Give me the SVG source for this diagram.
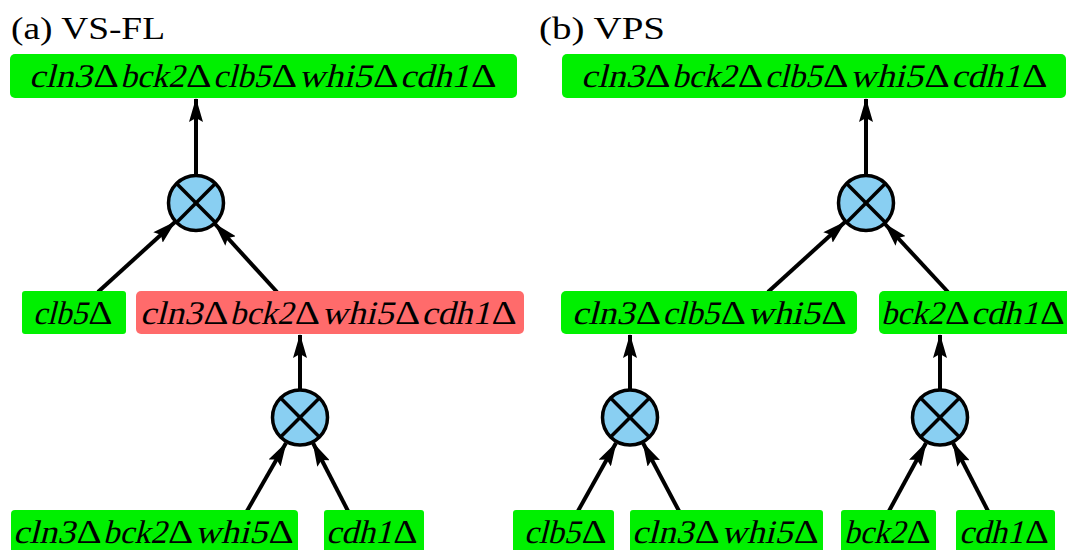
<svg xmlns="http://www.w3.org/2000/svg" width="1067" height="550" viewBox="0 0 1067 550">
<style>
.g{fill:#00f000}
.r{fill:#ff6b6b}
.i{font-family:"Liberation Serif","DejaVu Serif",serif;font-size:33px;fill:#000}
.d{font-family:"Liberation Serif","DejaVu Serif",serif;font-size:33px;fill:#000;text-anchor:middle}
.ttl{font-family:"Liberation Serif","DejaVu Serif",serif;font-size:31px;fill:#000}
.c{fill:#89cff2;stroke:#000;stroke-width:3.5}
.x{stroke:#000;stroke-width:3.5}
.e{stroke:#000;stroke-width:4;fill:none;marker-end:url(#ah)}
</style>
<defs>
<marker id="ah" markerUnits="userSpaceOnUse" viewBox="0 0 24 14" markerWidth="24" markerHeight="14" refX="23" refY="7" orient="auto">
<path d="M0,0 L24,7 L0,14 L4,7 z" fill="#000"/>
</marker>
<g id="mul">
<circle class="c" cx="0" cy="0" r="27.5"/>
<line class="x" x1="-19.4" y1="-19.4" x2="19.4" y2="19.4"/>
<line class="x" x1="19.4" y1="-19.4" x2="-19.4" y2="19.4"/>
</g>
</defs>
<rect width="1067" height="550" fill="#fff"/>
<text class="ttl" x="11" y="39" textLength="154" lengthAdjust="spacingAndGlyphs">(a) VS-FL</text>
<text class="ttl" x="539" y="39" textLength="126" lengthAdjust="spacingAndGlyphs">(b) VPS</text>

<g id="connectors">
<line class="e" x1="196" y1="176" x2="196" y2="99"/>
<line class="e" x1="98" y1="292" x2="175" y2="222"/>
<line class="e" x1="277" y1="292" x2="215" y2="224"/>
<line class="e" x1="300" y1="390" x2="300" y2="335"/>
<line class="e" x1="247" y1="511" x2="286" y2="443"/>
<line class="e" x1="348" y1="511" x2="313" y2="443"/>
<line class="e" x1="866" y1="176" x2="866" y2="99"/>
<line class="e" x1="768" y1="292" x2="845" y2="222"/>
<line class="e" x1="948" y1="292" x2="885" y2="224"/>
<line class="e" x1="630" y1="390" x2="630" y2="335"/>
<line class="e" x1="940" y1="390" x2="940" y2="335"/>
<line class="e" x1="578" y1="511" x2="616" y2="443"/>
<line class="e" x1="679" y1="511" x2="643" y2="443"/>
<line class="e" x1="889" y1="511" x2="926" y2="443"/>
<line class="e" x1="988" y1="511" x2="953" y2="443"/>
</g>

<g id="a_top"><rect class="g" x="10" y="54" width="507" height="44" rx="5"/>
<text class="i" transform="translate(29,87) skewX(-14)" textLength="62.8" lengthAdjust="spacingAndGlyphs">cln3</text>
<text class="d" x="106" y="87" textLength="25.6" lengthAdjust="spacingAndGlyphs">Δ</text>
<text class="i" transform="translate(120.2,87) skewX(-14)" textLength="64.5" lengthAdjust="spacingAndGlyphs">bck2</text>
<text class="d" x="198.9" y="87" textLength="25.6" lengthAdjust="spacingAndGlyphs">Δ</text>
<text class="i" transform="translate(213.1,87) skewX(-14)" textLength="56.9" lengthAdjust="spacingAndGlyphs">clb5</text>
<text class="d" x="284.2" y="87" textLength="25.6" lengthAdjust="spacingAndGlyphs">Δ</text>
<text class="i" transform="translate(298.4,87) skewX(-14)" textLength="73.2" lengthAdjust="spacingAndGlyphs">whi5</text>
<text class="d" x="385.8" y="87" textLength="25.6" lengthAdjust="spacingAndGlyphs">Δ</text>
<text class="i" transform="translate(400,87) skewX(-14)" textLength="69.5" lengthAdjust="spacingAndGlyphs">cdh1</text>
<text class="d" x="483.8" y="87" textLength="25.6" lengthAdjust="spacingAndGlyphs">Δ</text></g>
<g id="a_op1"><use href="#mul" x="196" y="203"/></g>
<g id="a_clb5"><rect class="g" x="22" y="291" width="104" height="43" rx="3"/>
<text class="i" transform="translate(33,324) skewX(-14)" textLength="54.1" lengthAdjust="spacingAndGlyphs">clb5</text>
<text class="d" x="100.5" y="324" textLength="24.3" lengthAdjust="spacingAndGlyphs">Δ</text></g>
<g id="a_red"><rect class="r" x="136" y="291" width="388" height="43" rx="5"/>
<text class="i" transform="translate(140,324) skewX(-14)" textLength="61.9" lengthAdjust="spacingAndGlyphs">cln3</text>
<text class="d" x="215.8" y="324" textLength="25.2" lengthAdjust="spacingAndGlyphs">Δ</text>
<text class="i" transform="translate(229.8,324) skewX(-14)" textLength="63.6" lengthAdjust="spacingAndGlyphs">bck2</text>
<text class="d" x="307.4" y="324" textLength="25.2" lengthAdjust="spacingAndGlyphs">Δ</text>
<text class="i" transform="translate(321.4,324) skewX(-14)" textLength="72.1" lengthAdjust="spacingAndGlyphs">whi5</text>
<text class="d" x="407.5" y="324" textLength="25.2" lengthAdjust="spacingAndGlyphs">Δ</text>
<text class="i" transform="translate(421.5,324) skewX(-14)" textLength="68.5" lengthAdjust="spacingAndGlyphs">cdh1</text>
<text class="d" x="504" y="324" textLength="25.2" lengthAdjust="spacingAndGlyphs">Δ</text></g>
<g id="a_op2"><use href="#mul" x="300" y="417.5"/></g>
<g id="a_cbw"><rect class="g" x="11" y="510" width="287" height="50" rx="4"/>
<text class="i" transform="translate(13,543) skewX(-14)" textLength="62" lengthAdjust="spacingAndGlyphs">cln3</text>
<text class="d" x="89" y="543" textLength="25.2" lengthAdjust="spacingAndGlyphs">Δ</text>
<text class="i" transform="translate(103,543) skewX(-14)" textLength="63.7" lengthAdjust="spacingAndGlyphs">bck2</text>
<text class="d" x="180.7" y="543" textLength="25.2" lengthAdjust="spacingAndGlyphs">Δ</text>
<text class="i" transform="translate(194.7,543) skewX(-14)" textLength="72.3" lengthAdjust="spacingAndGlyphs">whi5</text>
<text class="d" x="281" y="543" textLength="25.2" lengthAdjust="spacingAndGlyphs">Δ</text></g>
<g id="a_cdh1"><rect class="g" x="324" y="510" width="100" height="50" rx="3"/>
<text class="i" transform="translate(326,543) skewX(-14)" textLength="66" lengthAdjust="spacingAndGlyphs">cdh1</text>
<text class="d" x="405.5" y="543" textLength="24.3" lengthAdjust="spacingAndGlyphs">Δ</text></g>

<g id="b_top"><rect class="g" x="562" y="54" width="504" height="44" rx="5"/>
<text class="i" transform="translate(581,87) skewX(-14)" textLength="62.7" lengthAdjust="spacingAndGlyphs">cln3</text>
<text class="d" x="657.8" y="87" textLength="25.5" lengthAdjust="spacingAndGlyphs">Δ</text>
<text class="i" transform="translate(672,87) skewX(-14)" textLength="64.4" lengthAdjust="spacingAndGlyphs">bck2</text>
<text class="d" x="750.5" y="87" textLength="25.5" lengthAdjust="spacingAndGlyphs">Δ</text>
<text class="i" transform="translate(764.7,87) skewX(-14)" textLength="56.8" lengthAdjust="spacingAndGlyphs">clb5</text>
<text class="d" x="835.7" y="87" textLength="25.5" lengthAdjust="spacingAndGlyphs">Δ</text>
<text class="i" transform="translate(849.8,87) skewX(-14)" textLength="73" lengthAdjust="spacingAndGlyphs">whi5</text>
<text class="d" x="937" y="87" textLength="25.5" lengthAdjust="spacingAndGlyphs">Δ</text>
<text class="i" transform="translate(951.2,87) skewX(-14)" textLength="69.4" lengthAdjust="spacingAndGlyphs">cdh1</text>
<text class="d" x="1034.8" y="87" textLength="25.5" lengthAdjust="spacingAndGlyphs">Δ</text></g>
<g id="b_op1"><use href="#mul" x="866" y="203"/></g>
<g id="b_ccw"><rect class="g" x="561" y="291" width="296" height="43" rx="5"/>
<text class="i" transform="translate(572,324) skewX(-14)" textLength="62.3" lengthAdjust="spacingAndGlyphs">cln3</text>
<text class="d" x="648.4" y="324" textLength="25.4" lengthAdjust="spacingAndGlyphs">Δ</text>
<text class="i" transform="translate(662.5,324) skewX(-14)" textLength="56.5" lengthAdjust="spacingAndGlyphs">clb5</text>
<text class="d" x="733.1" y="324" textLength="25.4" lengthAdjust="spacingAndGlyphs">Δ</text>
<text class="i" transform="translate(747.2,324) skewX(-14)" textLength="72.6" lengthAdjust="spacingAndGlyphs">whi5</text>
<text class="d" x="833.9" y="324" textLength="25.4" lengthAdjust="spacingAndGlyphs">Δ</text></g>
<g id="b_bc"><rect class="g" x="879" y="291" width="200" height="43" rx="5"/>
<text class="i" transform="translate(881,324) skewX(-14)" textLength="62.6" lengthAdjust="spacingAndGlyphs">bck2</text>
<text class="d" x="957.3" y="324" textLength="24.8" lengthAdjust="spacingAndGlyphs">Δ</text>
<text class="i" transform="translate(971.1,324) skewX(-14)" textLength="67.4" lengthAdjust="spacingAndGlyphs">cdh1</text>
<text class="d" x="1052.3" y="324" textLength="24.8" lengthAdjust="spacingAndGlyphs">Δ</text></g>
<g id="b_op2"><use href="#mul" x="630" y="417.5"/></g>
<g id="b_op3"><use href="#mul" x="940" y="417.5"/></g>
<g id="b_clb5"><rect class="g" x="513" y="510" width="101" height="50" rx="3"/>
<text class="i" transform="translate(524,543) skewX(-14)" textLength="56.1" lengthAdjust="spacingAndGlyphs">clb5</text>
<text class="d" x="594" y="543" textLength="25.2" lengthAdjust="spacingAndGlyphs">Δ</text></g>
<g id="b_cw"><rect class="g" x="630" y="510" width="193" height="50" rx="3"/>
<text class="i" transform="translate(632,543) skewX(-14)" textLength="61.2" lengthAdjust="spacingAndGlyphs">cln3</text>
<text class="d" x="707.1" y="543" textLength="24.9" lengthAdjust="spacingAndGlyphs">Δ</text>
<text class="i" transform="translate(720.9,543) skewX(-14)" textLength="71.4" lengthAdjust="spacingAndGlyphs">whi5</text>
<text class="d" x="806.2" y="543" textLength="24.9" lengthAdjust="spacingAndGlyphs">Δ</text></g>
<g id="b_bck2"><rect class="g" x="841" y="510" width="95" height="50" rx="3"/>
<text class="i" transform="translate(844,543) skewX(-14)" textLength="61.1" lengthAdjust="spacingAndGlyphs">bck2</text>
<text class="d" x="918.6" y="543" textLength="24.2" lengthAdjust="spacingAndGlyphs">Δ</text></g>
<g id="b_cdh1"><rect class="g" x="956" y="510" width="99" height="50" rx="3"/>
<text class="i" transform="translate(959,543) skewX(-14)" textLength="64.6" lengthAdjust="spacingAndGlyphs">cdh1</text>
<text class="d" x="1036.8" y="543" textLength="23.8" lengthAdjust="spacingAndGlyphs">Δ</text></g>
</svg>
